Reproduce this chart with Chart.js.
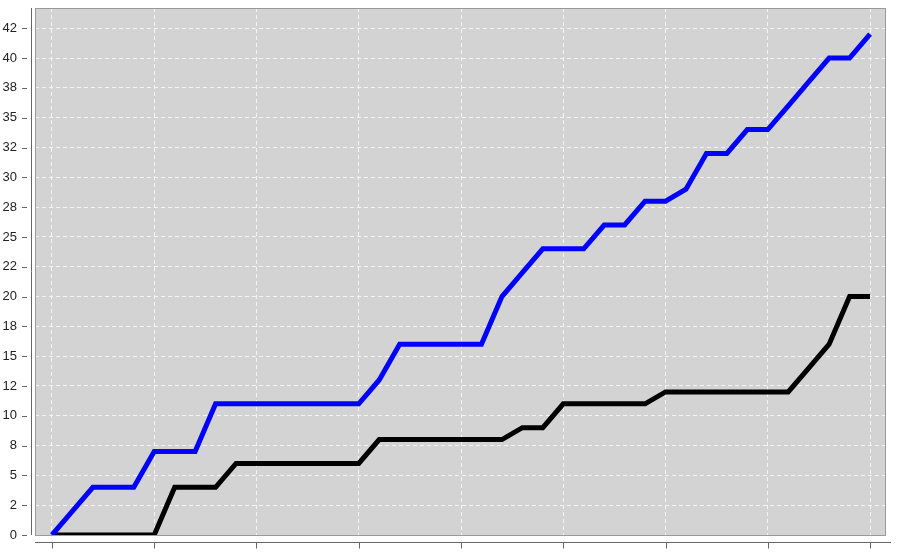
<!DOCTYPE html>
<html>
<head>
<meta charset="utf-8">
<script src="https://cdn.jsdelivr.net/npm/chart.js@4.4.0/dist/chart.umd.min.js"></script>
<style>
  html, body { margin: 0; padding: 0; width: 906px; height: 553px; overflow: hidden; background: #fff; }
  #wrap { position: relative; width: 906px; height: 575px; }
</style>
</head>
<body>
<div id="wrap"><canvas id="chart"></canvas></div>
<script>
// step index along the x axis (41 points)
const steps = [0, 1, 2, 3, 4, 5, 6, 7, 8, 9, 10, 11, 12, 13, 14, 15, 16, 17, 18, 19, 20,
               21, 22, 23, 24, 25, 26, 27, 28, 29, 30, 31, 32, 33, 34, 35, 36, 37, 38, 39, 40];

// blue series
const blueValues = [0, 2, 4, 4, 4, 7, 7, 7, 11, 11, 11, 11, 11, 11, 11, 11, 13, 16, 16, 16, 16,
                    16, 20, 22, 24, 24, 24, 26, 26, 28, 28, 29, 32, 32, 34, 34, 36, 38, 40, 40, 42];

// black series
const blackValues = [0, 0, 0, 0, 0, 0, 4, 4, 4, 6, 6, 6, 6, 6, 6, 6, 8, 8, 8, 8, 8,
                     8, 8, 9, 9, 11, 11, 11, 11, 11, 12, 12, 12, 12, 12, 12, 12, 14, 16, 20, 20];

// axis ticks
const xTickValues = [0, 5, 10, 15, 20, 25, 30, 35, 40];
const xTickLabels = ['00:00', '00:05', '00:10', '00:15', '00:20', '00:25', '00:30', '00:35', '00:40'];
const yTickValues = [0, 2.5, 5, 7.5, 10, 12.5, 15, 17.5, 20, 22.5, 25, 27.5, 30, 32.5, 35, 37.5, 40, 42.5];
const yTickLabels = ['0', '2', '5', '8', '10', '12', '15', '18', '20', '22', '25', '28', '30', '32', '35', '38', '40', '42'];

// grey panel, border and the detached axes
const framePlugin = {
    id: 'frame',
    beforeDraw(chart) {
        const { ctx, chartArea: a } = chart;
        ctx.save();
        ctx.fillStyle = '#d3d3d3';
        ctx.fillRect(a.left, a.top, a.right - a.left, a.bottom - a.top);
        ctx.restore();
    },
    beforeDatasetsDraw(chart) {
        const { ctx, chartArea: a, scales } = chart;
        ctx.save();
        ctx.lineWidth = 1;
        ctx.strokeStyle = '#9a9a9a';
        ctx.strokeRect(a.left + 0.5, a.top + 0.5, a.right - a.left - 1, a.bottom - a.top);

        ctx.strokeStyle = '#666';
        ctx.beginPath();
        const ax = a.left - 3.5;
        ctx.moveTo(ax, a.top);
        ctx.lineTo(ax, a.bottom);
        scales.y.ticks.forEach(t => {
            const py = Math.round(scales.y.getPixelForValue(t.value)) + 0.5;
            ctx.moveTo(a.left - 13, py);
            ctx.lineTo(a.left - 8, py);
        });
        const ay = a.bottom + 7.5;
        ctx.moveTo(a.left, ay);
        ctx.lineTo(a.right + 5, ay);
        scales.x.ticks.forEach(t => {
            const px = Math.round(scales.x.getPixelForValue(t.value)) + 0.5;
            ctx.moveTo(px, ay);
            ctx.lineTo(px, ay + 6);
        });
        ctx.stroke();
        ctx.restore();
    }
};

const gridStyle = { color: '#f4f4f4', lineWidth: 1, drawTicks: false };

new Chart(document.getElementById('chart'), {
    type: 'line',
    data: {
        datasets: [
            {
                label: 'blue',
                data: steps.map((s, i) => ({ x: s, y: blueValues[i] })),
                borderColor: '#0000ff',
                borderWidth: 5,
                pointRadius: 0,
                tension: 0,
                fill: false,
                borderJoinStyle: 'miter',
                borderCapStyle: 'butt'
            },
            {
                label: 'black',
                data: steps.map((s, i) => ({ x: s, y: blackValues[i] })),
                borderColor: '#000000',
                borderWidth: 5,
                pointRadius: 0,
                tension: 0,
                fill: false,
                borderJoinStyle: 'miter',
                borderCapStyle: 'butt'
            }
        ]
    },
    options: {
        responsive: true,
        maintainAspectRatio: false,
        animation: false,
        layout: { padding: { top: 8, right: 20, left: 2, bottom: 0 } },
        plugins: { legend: { display: false }, tooltip: { enabled: false } },
        scales: {
            x: {
                type: 'linear',
                min: -0.83,
                max: 40.78,
                grid: gridStyle,
                border: { display: false, dash: [4, 3] },
                afterBuildTicks: scale => { scale.ticks = xTickValues.map(v => ({ value: v })); },
                afterFit: scale => { scale.height = 40; },
                ticks: {
                    autoSkip: false,
                    maxRotation: 0,
                    padding: 16,
                    color: '#aaa',
                    font: { family: 'Liberation Sans, Arial, sans-serif', size: 13 },
                    callback: (v, i) => xTickLabels[i]
                }
            },
            y: {
                type: 'linear',
                min: 0,
                max: 44.2,
                grid: gridStyle,
                border: { display: false, dash: [4, 3] },
                afterBuildTicks: scale => { scale.ticks = yTickValues.map(v => ({ value: v })); },
                afterFit: scale => {
                    scale.width = 33;
                    scale.paddingTop = 0;
                    scale.paddingBottom = 0;
                },
                ticks: {
                    autoSkip: false,
                    padding: 18,
                    color: '#222',
                    font: { family: 'Liberation Sans, Arial, sans-serif', size: 13 },
                    callback: (v, i) => yTickLabels[i]
                }
            }
        }
    },
    plugins: [framePlugin]
});
</script>
</body>
</html>
